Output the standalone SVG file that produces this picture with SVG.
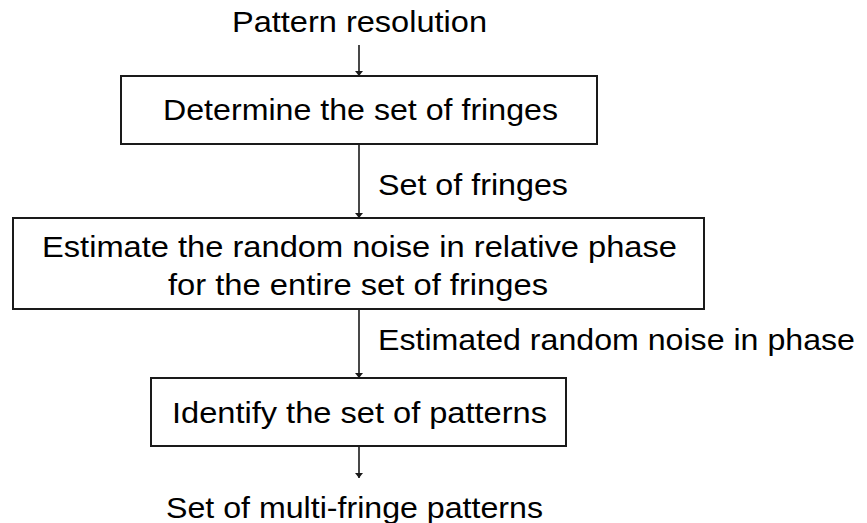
<svg xmlns="http://www.w3.org/2000/svg" width="867" height="523" viewBox="0 0 867 523">
  <style>
    .box { fill: #ffffff; stroke: #1a1a1a; stroke-width: 2; }
    .lbl { font-family: "Liberation Sans", Arial, sans-serif; font-size: 29px; fill: #000000; }
    .mid { text-anchor: middle; }
    .flow { stroke: #1a1a1a; stroke-width: 1.6; fill: none; marker-end: url(#head); }
  </style>
  <defs>
    <marker id="head" viewBox="0 0 10 10" refX="10" refY="5" markerWidth="5" markerHeight="8" markerUnits="userSpaceOnUse" orient="auto" preserveAspectRatio="none">
      <path d="M0,0 L10,5 L0,10 Z" fill="#1a1a1a"/>
    </marker>
  </defs>
  <rect width="867" height="523" fill="#ffffff"/>

  <!-- flow connectors -->
  <g id="connectors">
    <line class="flow" x1="359" y1="45" x2="359" y2="76"/>
    <line class="flow" x1="359" y1="144" x2="359" y2="218"/>
    <line class="flow" x1="359" y1="309" x2="359" y2="378"/>
    <line class="flow" x1="359" y1="446" x2="359" y2="478"/>
  </g>

  <!-- edge labels and terminal labels -->
  <g id="labels">
    <text class="lbl" x="232" y="32" textLength="255" lengthAdjust="spacingAndGlyphs">Pattern resolution</text>
    <text class="lbl" x="378" y="195" textLength="190" lengthAdjust="spacingAndGlyphs">Set of fringes</text>
    <text class="lbl" x="378" y="350" textLength="477" lengthAdjust="spacingAndGlyphs">Estimated random noise in phase</text>
    <text class="lbl" x="166" y="518" textLength="377" lengthAdjust="spacingAndGlyphs">Set of multi-fringe patterns</text>
  </g>

  <g id="determine-fringes">
    <rect class="box" x="121" y="76" width="476" height="68"/>
    <text class="lbl" x="163" y="120" textLength="395" lengthAdjust="spacingAndGlyphs">Determine the set of fringes</text>
  </g>

  <g id="estimate-noise">
    <rect class="box" x="13" y="218" width="691" height="91"/>
    <text class="lbl" x="42" y="257" textLength="635" lengthAdjust="spacingAndGlyphs">Estimate the random noise in relative phase</text>
    <text class="lbl" x="168" y="295" textLength="380" lengthAdjust="spacingAndGlyphs">for the entire set of fringes</text>
  </g>

  <g id="identify-patterns">
    <rect class="box" x="151" y="378" width="415" height="68"/>
    <text class="lbl" x="172" y="423" textLength="375" lengthAdjust="spacingAndGlyphs">Identify the set of patterns</text>
  </g>
</svg>
